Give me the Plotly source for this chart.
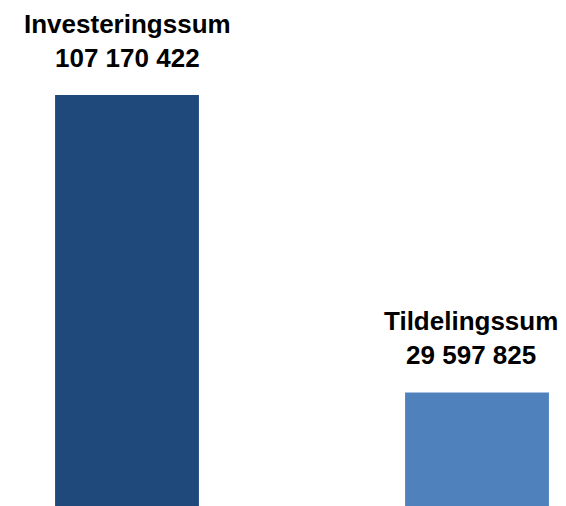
import plotly.graph_objects as go

categories = ["Investeringssum", "Tildelingssum"]
values = [107170422, 29597825]
value_labels = ["107 170 422", "29 597 825"]
colors = ["#1F497A", "#4F81BD"]

fig = go.Figure()
fig.add_trace(go.Bar(
    x=categories, y=values, marker=dict(color=colors, line=dict(width=0)),
    width=0.411, hoverinfo="skip", showlegend=False,
))

label_xshift = [0, -6]  # keep the right-hand label inside the page
for i, (c, v, lab) in enumerate(zip(categories, values, value_labels)):
    fig.add_annotation(
        x=c, y=v, text=f"<b>{c}</b><br><b>{lab}</b>", showarrow=False,
        yanchor="bottom", yshift=20, xshift=label_xshift[i], xanchor="center",
        font=dict(family="Liberation Sans, Arial, sans-serif", size=26, color="#000000"),
    )

# page body has an 8px margin, so compensate in the figure coordinates
ymax = values[0] * 498 / 411
fig.update_layout(
    width=566, height=506,
    margin=dict(l=0, r=0, t=0, b=8),
    paper_bgcolor="white", plot_bgcolor="white",
    xaxis=dict(visible=False, range=[-119 / 350, 1 + 97 / 350]),
    yaxis=dict(visible=False, range=[0, ymax]),
)
fig.write_html("out.html")
